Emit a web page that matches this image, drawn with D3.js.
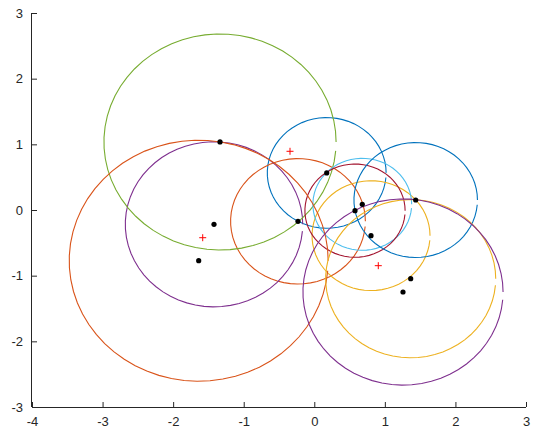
<!DOCTYPE html>
<html>
<head>
<meta charset="utf-8">
<script src="https://cdn.jsdelivr.net/npm/d3@7/dist/d3.min.js"></script>
<style>
  html, body { margin: 0; padding: 0; background: #fff; }
  svg { display: block; }
</style>
</head>
<body>
<svg id="chart" width="534" height="434"></svg>
<script>
// Data points (each one is the centre of a circle)
const pointX = [0.176, -0.231, 0.804, -1.421, -1.336, 0.680, 0.577, 1.437, -1.638, 1.366, 1.257];
const pointY = [0.565, -0.172, -0.391, -0.218, 1.036, 0.087, -0.010, 0.152, -0.772, -1.046, -1.249];
// Circle radius for each point
const radii = [0.842, 0.955, 0.836, 1.257, 1.645, 0.700, 0.710, 0.875, 1.835, 1.205, 1.418];
// Red "+" markers
const plusX = [-1.581, -0.344, 0.907];
const plusY = [-0.422, 0.894, -0.848];
// Axis ticks
const xTicks = [-4, -3, -2, -1, 0, 1, 2, 3];
const yTicks = [-3, -2, -1, 0, 1, 2, 3];
const colors = ["#0072BD", "#D95319", "#EDB120", "#7E2F8E", "#77AC30", "#4DBEEE", "#A2142F"];

const svg = d3.select("#chart");
const m = { left: 32, top: 13, right: 8, bottom: 27 };
const x = d3.scaleLinear().domain([-4, 3]).range([m.left, 526]);
const y = d3.scaleLinear().domain([-3, 3]).range([407, m.top]);

const axisColor = "#262626";

// Circles
const angles = d3.range(63).map(i => i * 0.1);
const line = d3.line().x(d => x(d[0])).y(d => y(d[1]));
const g = svg.append("g");
pointX.forEach((cx, i) => {
  const cy = pointY[i], r = radii[i];
  const pts = angles.map(t => [cx + r * Math.cos(t), cy + r * Math.sin(t)]);
  g.append("path")
    .attr("d", line(pts))
    .attr("fill", "none")
    .attr("stroke", colors[i % colors.length])
    .attr("stroke-width", 1.1);
});

// Black dots
svg.append("g").selectAll("circle")
  .data(pointX.map((v, i) => [v, pointY[i]]))
  .join("circle")
  .attr("cx", d => x(d[0]))
  .attr("cy", d => y(d[1]))
  .attr("r", 2.6)
  .attr("fill", "#000");

// Red plus markers
const pg = svg.append("g");
plusX.forEach((px, i) => {
  const X = x(px), Y = y(plusY[i]), s = 3.5;
  pg.append("path")
    .attr("d", `M${X - s},${Y}H${X + s}M${X},${Y - s}V${Y + s}`)
    .attr("stroke", "#FF0000")
    .attr("stroke-width", 1)
    .attr("fill", "none");
});

// Axes
const fmt = d => String(d);
const xAxis = d3.axisBottom(x).tickValues(xTicks).tickSize(-5).tickPadding(10).tickFormat(fmt);
const yAxis = d3.axisLeft(y).tickValues(yTicks).tickSize(-5).tickPadding(9).tickFormat(fmt);

const gx = svg.append("g").attr("transform", `translate(0,${y(-3)})`).call(xAxis);
const gy = svg.append("g").attr("transform", `translate(${x(-4)},0)`).call(yAxis);

[gx, gy].forEach(a => {
  a.select(".domain").attr("stroke", axisColor).attr("stroke-width", 1);
  a.selectAll(".tick line").attr("stroke", axisColor);
  a.selectAll(".tick text")
    .attr("fill", axisColor)
    .style("font-family", "'Liberation Sans', Arial, Helvetica, sans-serif")
    .style("font-size", "13px");
});
// Axis domain lines without end caps
gx.select(".domain").attr("d", `M${x(-4)},0.5H${x(3)}`);
gy.select(".domain").attr("d", `M-0.5,${y(-3)}V${y(3)}`);
gx.selectAll(".tick text").attr("dy", "0.71em");
</script>
</body>
</html>
